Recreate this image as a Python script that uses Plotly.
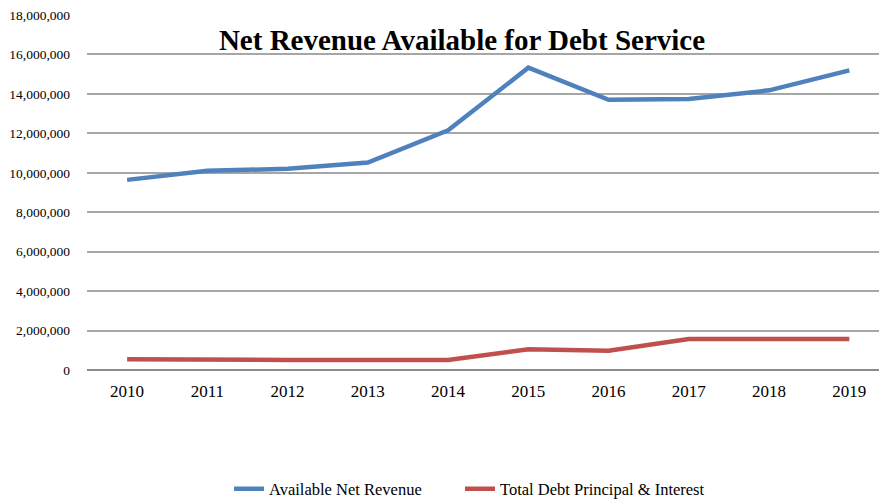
import plotly.graph_objects as go

years = ["2010", "2011", "2012", "2013", "2014", "2015", "2016", "2017", "2018", "2019"]
net_revenue = [9640000, 10100000, 10200000, 10520000, 12150000, 15330000, 13700000, 13740000, 14180000, 15190000]
debt_service = [540000, 510000, 510000, 510000, 510000, 1050000, 980000, 1570000, 1570000, 1570000]
y_ticks = [0, 2000000, 4000000, 6000000, 8000000, 10000000, 12000000, 14000000, 16000000, 18000000]

FONT = "Liberation Serif"

fig = go.Figure()
fig.add_trace(go.Scatter(x=list(range(len(years))), y=net_revenue, mode="lines",
                         name="Available Net Revenue", legend="legend",
                         line=dict(color="#4F81BD", width=4.5)))
fig.add_trace(go.Scatter(x=list(range(len(years))), y=debt_service, mode="lines",
                         name="Total Debt Principal & Interest", legend="legend2",
                         line=dict(color="#C0504D", width=4.5)))

legend_common = dict(orientation="h", xref="container", yref="container",
                     xanchor="left", y=(500-489)/500, yanchor="middle",
                     font=dict(family=FONT, size=16.5, color="black"),
                     bgcolor="rgba(0,0,0,0)")

fig.update_layout(
    width=879, height=500,
    margin=dict(l=87, r=0, t=15, b=130),
    paper_bgcolor="white", plot_bgcolor="white",
    font=dict(family=FONT, color="black"),
    title=dict(text="<b>Net Revenue Available for Debt Service</b>",
               font=dict(family=FONT, size=29, color="black"),
               x=462/879, xanchor="center", xref="container",
               y=1 - 40/500, yanchor="middle", yref="container"),
    showlegend=True,
    legend=dict(x=229/879, **legend_common),
    legend2=dict(x=460/879, **legend_common),
    xaxis=dict(tickmode="array", tickvals=list(range(len(years))), ticktext=years,
               range=[-0.5, 9.37], showgrid=False, zeroline=False,
               showline=False, ticks="",
               tickfont=dict(family=FONT, size=17, color="black"),
               ticklabelstandoff=9, fixedrange=True),
    yaxis=dict(range=[0, 18000000], tickmode="array", tickvals=y_ticks,
               tickformat=",d", showgrid=True, gridcolor="#A6A6A6", gridwidth=1.5,
               zeroline=True, zerolinecolor="#8C8C8C", zerolinewidth=2,
               showline=False, ticks="",
               tickfont=dict(family=FONT, size=13.5, color="black"),
               ticklabelstandoff=16, fixedrange=True),
)

fig.write_html("out.html")
